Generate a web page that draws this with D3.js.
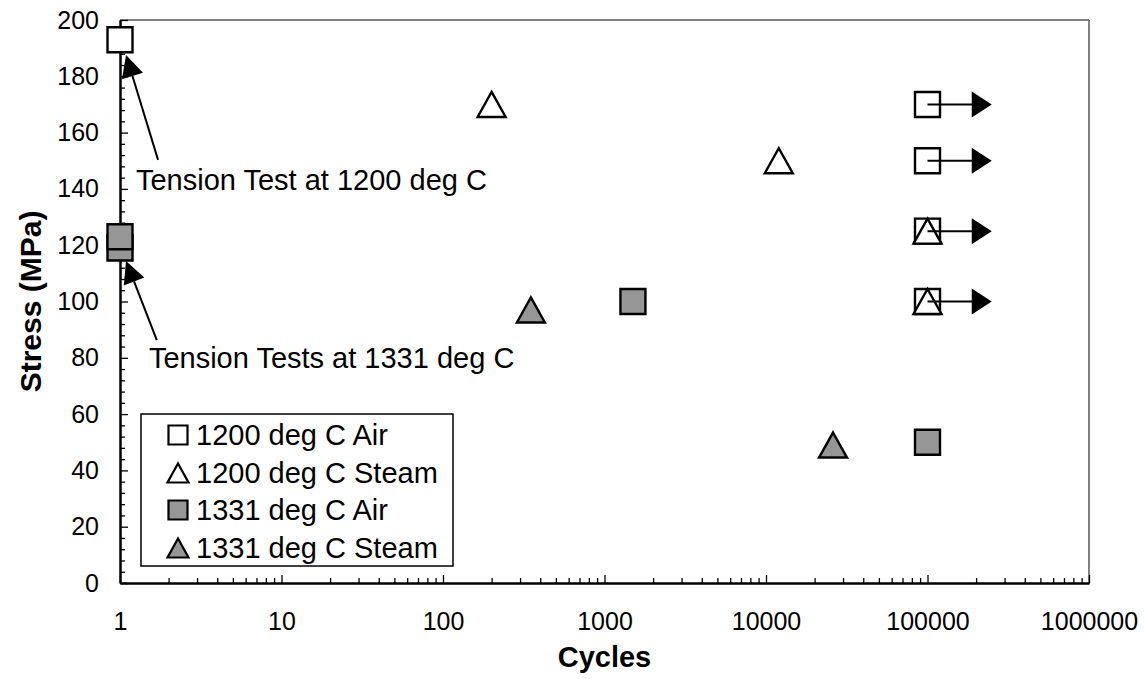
<!DOCTYPE html>
<html>
<head>
<meta charset="utf-8">
<script src="https://cdn.jsdelivr.net/npm/d3@7"></script>
<style>
  html, body { margin: 0; padding: 0; background: #ffffff; }
  svg { display: block; font-family: "Liberation Sans", Arial, sans-serif; }
</style>
</head>
<body>
<svg id="chart" width="1145" height="679"></svg>
<script>
// ---------- DATA ----------
const xTickValues = [1, 10, 100, 1000, 10000, 100000, 1000000];
const xTickLabels = ["1", "10", "100", "1000", "10000", "100000", "1000000"];
const yTickValues = [0, 20, 40, 60, 80, 100, 120, 140, 160, 180, 200];
const yTickLabels = ["0", "20", "40", "60", "80", "100", "120", "140", "160", "180", "200"];

const seriesNames = ["1200 deg C Air", "1200 deg C Steam", "1331 deg C Air", "1331 deg C Steam"];

const air1200Cycles   = [1, 100000, 100000, 100000, 100000];
const air1200Stress   = [193, 170, 150, 125, 100];
const steam1200Cycles = [200, 12000, 100000, 100000];
const steam1200Stress = [170, 150, 125, 100];
const air1331Cycles   = [1, 1, 1500, 100000];
const air1331Stress   = [119, 123, 100, 50];
const steam1331Cycles = [350, 26000];
const steam1331Stress = [97, 49];

// run-out arrows (specimens that did not fail)
const runoutStress = [170, 150, 125, 100];
const runoutFrom = 100000;
const runoutTo = 250000;

// annotations: text position, arrow start, arrow tip (data coordinates)
const annotations = [
  { text: "Tension Test at 1200 deg C",  tx: 1.256, ty: 139.6, x0: 1.72, y0: 150.3, x1: 1.09, y1: 187.6 },
  { text: "Tension Tests at 1331 deg C", tx: 1.51,  ty: 76.4,  x0: 1.69, y0: 86.3,  x1: 1.09, y1: 114.4 }
];

(function () {
// ---------- LAYOUT ----------
const pLeft = 120, pRight = 1089, pTop = 20, pBottom = 583;
const svg = d3.select("#chart");

const x = d3.scaleLog().domain([1, 1000000]).range([pLeft, pRight]);
const y = d3.scaleLinear().domain([0, 200]).range([pBottom, pTop]);

const GRAY = "#969696";

// frame: top and right borders in gray
svg.append("line").attr("x1", pLeft).attr("x2", pRight).attr("y1", pTop).attr("y2", pTop)
  .attr("stroke", "#808080").attr("stroke-width", 2);
svg.append("line").attr("x1", pRight).attr("x2", pRight).attr("y1", pTop).attr("y2", pBottom)
  .attr("stroke", "#808080").attr("stroke-width", 2);

// minor ticks
const xMinor = [];
for (let d = 1; d < 1000000; d *= 10) for (let k = 2; k <= 9; k++) xMinor.push(d * k);
const yMinor = [];
for (let v = 0; v < 200; v += 4) if (v % 20 !== 0) yMinor.push(v);

const xAxisMinor = svg.append("g").attr("transform", `translate(0,${pBottom})`)
  .call(d3.axisBottom(x).tickValues(xMinor).tickSizeInner(-5).tickSizeOuter(0).tickFormat(""));
const yAxisMinor = svg.append("g").attr("transform", `translate(${pLeft},0)`)
  .call(d3.axisLeft(y).tickValues(yMinor).tickSizeInner(-5).tickSizeOuter(0).tickFormat(""));

const xAxis = svg.append("g").attr("transform", `translate(0,${pBottom})`)
  .call(d3.axisBottom(x).tickValues(xTickValues).tickSizeInner(-8).tickSizeOuter(0).tickPadding(29)
    .tickFormat((d, i) => xTickLabels[i]));
const yAxis = svg.append("g").attr("transform", `translate(${pLeft},0)`)
  .call(d3.axisLeft(y).tickValues(yTickValues).tickSizeInner(-8).tickSizeOuter(0).tickPadding(21)
    .tickFormat((d, i) => yTickLabels[i]));

[xAxisMinor, yAxisMinor, xAxis, yAxis].forEach(g => {
  g.selectAll(".domain").attr("stroke", "#000").attr("stroke-width", 2);
  g.selectAll(".tick line").attr("stroke", "#000").attr("stroke-width", 1.3);
  g.selectAll("text").attr("fill", "#000").style("font-size", "25px")
    .style("font-family", '"Liberation Sans", Arial, sans-serif');
});

// axis titles
svg.append("text").attr("x", (pLeft + pRight) / 2).attr("y", 667)
  .attr("text-anchor", "middle").style("font-size", "29px").style("font-weight", "bold")
  .text("Cycles");
svg.append("text").attr("transform", `translate(41,${(pTop + pBottom) / 2}) rotate(-90)`)
  .attr("text-anchor", "middle").style("font-size", "30px").style("font-weight", "bold")
  .text("Stress (MPa)");

// ---------- MARKERS ----------
function squarePath(s) { const h = s / 2; return `M${-h},${-h}H${h}V${h}H${-h}Z`; }
function trianglePath(w, hgt) { return `M0,${-hgt / 2}L${w / 2},${hgt / 2}L${-w / 2},${hgt / 2}Z`; }

const SQ = squarePath(25);
const TRI = trianglePath(28, 25);

function drawSeries(xs, ys, path, fill) {
  svg.append("g").selectAll("path").data(xs.map((v, i) => [v, ys[i]])).join("path")
    .attr("transform", d => `translate(${x(d[0])},${y(d[1])})`)
    .attr("d", path).attr("fill", fill).attr("stroke", "#000")
    .attr("stroke-width", 2.4).attr("stroke-linejoin", "miter");
}
drawSeries(air1200Cycles, air1200Stress, SQ, "#ffffff");
drawSeries(steam1200Cycles, steam1200Stress, TRI, "#ffffff");
drawSeries(air1331Cycles, air1331Stress, SQ, GRAY);
drawSeries(steam1331Cycles, steam1331Stress, TRI, GRAY);

// run-out arrows
const headLen = 20, headHalf = 13;
const ro = svg.append("g");
runoutStress.forEach(s => {
  const x0 = x(runoutFrom), x1 = x(runoutTo), yy = y(s);
  ro.append("line").attr("x1", x0).attr("x2", x1 - headLen + 1).attr("y1", yy).attr("y2", yy)
    .attr("stroke", "#000").attr("stroke-width", 2);
  ro.append("path").attr("d", `M${x1},${yy}L${x1 - headLen},${yy - headHalf}L${x1 - headLen},${yy + headHalf}Z`)
    .attr("fill", "#000");
});

// annotations
annotations.forEach(a => {
  const px0 = x(a.x0), py0 = y(a.y0), px1 = x(a.x1), py1 = y(a.y1);
  const dx = px1 - px0, dy = py1 - py0, len = Math.hypot(dx, dy);
  const ux = dx / len, uy = dy / len;
  const hl = 22, hw = 11;
  const bx = px1 - ux * hl, by = py1 - uy * hl;
  svg.append("line").attr("x1", px0).attr("y1", py0).attr("x2", bx).attr("y2", by)
    .attr("stroke", "#000").attr("stroke-width", 2);
  svg.append("path")
    .attr("d", `M${px1},${py1}L${bx - uy * hw},${by + ux * hw}L${bx + uy * hw},${by - ux * hw}Z`)
    .attr("fill", "#000");
  svg.append("text").attr("x", x(a.tx)).attr("y", y(a.ty)).style("font-size", "29px")
    .attr("fill", "#000").text(a.text);
});

// ---------- LEGEND ----------
const legX = 141, legY = 414, legW = 312, legH = 152;
const leg = svg.append("g");
leg.append("rect").attr("x", legX).attr("y", legY).attr("width", legW).attr("height", legH)
  .attr("fill", "#ffffff").attr("stroke", "#000").attr("stroke-width", 1.5);
const legendShapes = [squarePath(19), trianglePath(21, 19), squarePath(19), trianglePath(21, 19)];
const legendFills = ["#ffffff", "#ffffff", GRAY, GRAY];
const rowY = [435, 473, 510, 548];
seriesNames.forEach((name, i) => {
  leg.append("path").attr("transform", `translate(178,${rowY[i]})`).attr("d", legendShapes[i])
    .attr("fill", legendFills[i]).attr("stroke", "#000").attr("stroke-width", 2.2);
  leg.append("text").attr("x", 196).attr("y", rowY[i]).attr("dy", "0.36em")
    .style("font-size", "29px").attr("fill", "#000").text(name);
});
})();
</script>
</body>
</html>
